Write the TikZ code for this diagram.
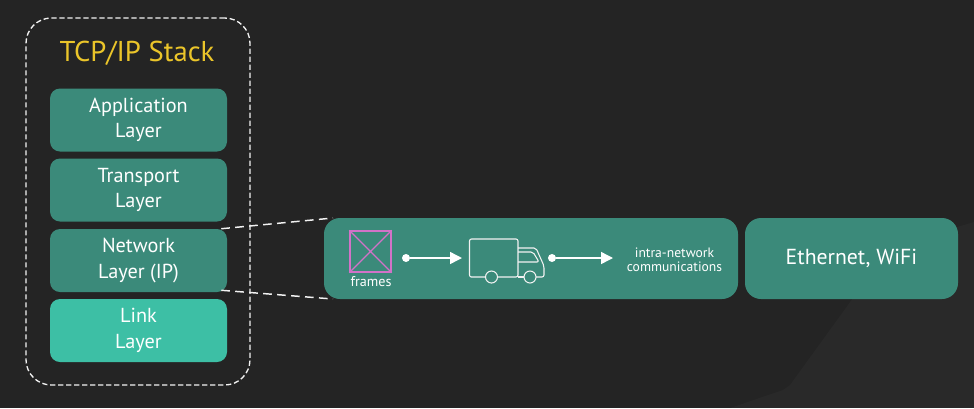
\documentclass[tikz,border=0pt]{standalone}
\usepackage{fontspec}
\setmainfont{PT Sans}
\usetikzlibrary{arrows.meta,calc}
\definecolor{bgc}{HTML}{242424}
\definecolor{teal1}{HTML}{3B8A7A}
\definecolor{teal2}{HTML}{3DBFA5}
\definecolor{ttl}{HTML}{EBC52A}
\definecolor{fr}{HTML}{D272C8}
\definecolor{linec}{HTML}{F2F2F2}
\tikzset{
  x=0.75pt,y=-0.75pt,
  layerbox/.style={rounded corners=7.5pt,minimum width=132.75pt,minimum height=47.25pt,inner sep=0pt,text=white,align=center,font=\fontsize{15.2pt}{19pt}\selectfont},
  widebox/.style={fill=teal1,rounded corners=12pt,inner sep=0pt,minimum height=60.75pt},
  dotnode/.style={circle,fill=white,inner sep=0pt,minimum size=6pt},
  flow/.style={draw=white,line width=1.1pt,-{Triangle[length=9pt,width=9pt]}},
  zoomline/.style={draw=linec,line width=1.1pt,dash pattern=on 6.5pt off 4pt},
  truckline/.style={draw=linec,line width=0.8pt,line join=round,rounded corners=1.5pt},
}
\begin{document}
\begin{tikzpicture}
\useasboundingbox (0,0) rectangle (974,408);
\fill[bgc] (0,0) rectangle (974,408);
\fill[white,opacity=0.025] (974,222) -- (957,227) -- (927,238) -- (887,273) -- (853,298) -- (790,385) -- (783,390) -- (730,408) -- (974,408) -- cycle;
% stack
\node[draw=linec,line width=1pt,dash pattern=on 3.9pt off 2.1pt,rounded corners=19pt,minimum width=168pt,minimum height=275.25pt,inner sep=0pt] (stack) at (138,201.5) {};
\node[text=ttl,font=\fontsize{21.5pt}{25pt}\selectfont,inner sep=0pt] (title) at (137,53) {TCP/IP Stack};
\node[layerbox,fill=teal1] (app) at (138.5,120) {Application\\Layer};
\node[layerbox,fill=teal1] (trans) at (138.5,190) {Transport\\Layer};
\node[layerbox,fill=teal1] (net) at (138.5,260.5) {Network\\Layer (IP)};
\node[layerbox,fill=teal2] (link) at (138.5,330.5) {Link\\Layer};
% zoom connectors
\coordinate (netT) at ($(net.north east)+(-6,0)$);
\coordinate (netB) at ($(net.south east)+(-6,-2)$);
\coordinate (wideT) at (333,218);
\coordinate (wideB) at (333,299);
\draw[zoomline] (netT) -- (wideT);
\draw[zoomline] (netB) -- (wideB);
% wide boxes
\node[widebox,minimum width=310.5pt] (wide) at (531,258.5) {};
\node[widebox,minimum width=159.75pt,text=white,font=\fontsize{16.3pt}{20pt}\selectfont] (eth) at (851.5,258.5) {Ethernet, WiFi};
% frame
\node[draw=fr,line width=1pt,minimum size=30.75pt,inner sep=0pt] (frame) at (370.5,251.5) {};
\draw[fr,line width=1pt] (frame.north west) -- (frame.south east) (frame.north east) -- (frame.south west);
\node[text=white,font=\fontsize{10.6pt}{12pt}\selectfont,inner sep=0pt] (framesl) at (371,282) {frames};
% arrow 1
\node[dotnode] (d1) at (406,258) {};
\coordinate (truckL) at (462,258);
\draw[flow] (d1) -- (truckL);
% truck
\draw[truckline] (485.5,277) -- (473,277) -- (469.5,277) -- (469.5,239) -- (518,239) -- (518,277) -- (497.5,277);
\draw[truckline] (518,277) -- (524,277);
\draw[truckline] (518,248) -- (536,248) -- (544,266) -- (544,277) -- (536,277);
\draw[truckline] (518,252) -- (533,252) -- (539,262) -- (518,262);
\node[draw=linec,line width=0.8pt,circle,minimum size=9pt,inner sep=0pt] (w1) at (491.5,277) {};
\node[draw=linec,line width=0.8pt,circle,minimum size=9pt,inner sep=0pt] (w2) at (530,277) {};
% arrow 2
\node[dotnode] (d2) at (552,258) {};
\coordinate (textL) at (613,258);
\draw[flow] (d2) -- (textL);
\node[text=white,align=center,font=\fontsize{10.2pt}{10.6pt}\selectfont,inner sep=0pt] (intra) at (674.5,260) {intra-network\\communications};
\end{tikzpicture}
\end{document}
